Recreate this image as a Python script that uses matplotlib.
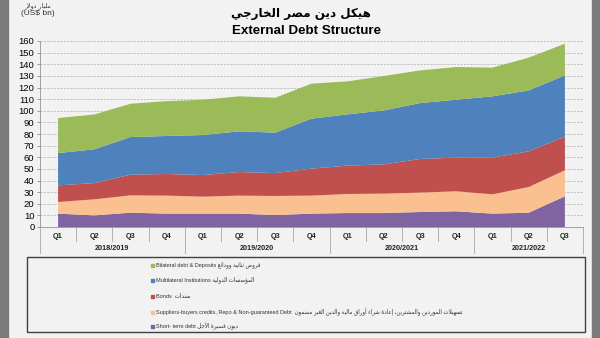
import matplotlib
matplotlib.use("Agg")
import matplotlib.pyplot as plt
from matplotlib.patches import Rectangle
import numpy as np

# ---------------- data ----------------
quarters = ["Q1", "Q2", "Q3", "Q4", "Q1", "Q2", "Q3", "Q4",
            "Q1", "Q2", "Q3", "Q4", "Q1", "Q2", "Q3"]
years = ["2018/2019", "2019/2020", "2020/2021", "2021/2022"]
year_groups = [(0, 3), (4, 7), (8, 11), (12, 14)]

short_term = [11.5, 10.0, 12.3, 11.5, 11.5, 11.5, 10.3, 11.5, 12.0, 12.0, 12.9, 13.5, 11.5, 12.3, 26.4]
suppliers = [10.0, 13.8, 14.9, 15.5, 14.6, 15.5, 16.4, 15.5, 16.4, 16.7, 16.7, 17.2, 16.6, 22.1, 22.4]
bonds = [14.3, 14.0, 17.8, 18.6, 18.6, 20.3, 19.7, 23.2, 24.4, 25.2, 28.9, 29.0, 31.6, 30.7, 28.9]
multilateral = [27.8, 29.0, 32.4, 32.7, 34.4, 35.0, 34.8, 43.0, 44.1, 46.4, 48.1, 49.8, 52.7, 52.4, 52.7]
bilateral = [30.1, 30.0, 28.6, 30.0, 30.4, 30.1, 30.0, 30.1, 28.4, 29.6, 28.1, 28.1, 24.7, 28.2, 27.3]

yticks = list(range(0, 161, 10))

title_ar = "هيكل دين مصر الخارجي"
title_en = "External Debt Structure"
unit_ar = "مليار دولار"
unit_en = "(US$ bn)"

legend_en = ["Bilateral debt & Deposits",
             "Multilateral Institutions",
             "Bonds ",
             "Suppliers-buyers credits, Repo & Non-guaranteed Debt ",
             "Short- term debt"]
legend_ar = ["قروض ثنائية وودائع",
             "المؤسسات الدولية",
             "سندات",
             "تسهيلات الموردين والمشترين، إعادة شراء أوراق مالية والدين الغير مضمون",
             "ديون قصيرة الأجل"]

colors_bottom_up = ["#8064A2", "#FAC090", "#C0504D", "#4F81BD", "#9BBB59"]
legend_colors = ["#9BBB59", "#4F81BD", "#C0504D", "#FAC090", "#8064A2"]

# -------- minimal Arabic shaping (presentation forms, visual order) --------
FORMS = {'ء': (0xFE80, 1), 'آ': (0xFE81, 2), 'أ': (0xFE83, 2), 'ؤ': (0xFE85, 2),
         'إ': (0xFE87, 2), 'ئ': (0xFE89, 4), 'ا': (0xFE8D, 2), 'ب': (0xFE8F, 4),
         'ة': (0xFE93, 2), 'ت': (0xFE95, 4), 'ث': (0xFE99, 4), 'ج': (0xFE9D, 4),
         'ح': (0xFEA1, 4), 'خ': (0xFEA5, 4), 'د': (0xFEA9, 2), 'ذ': (0xFEAB, 2),
         'ر': (0xFEAD, 2), 'ز': (0xFEAF, 2), 'س': (0xFEB1, 4), 'ش': (0xFEB5, 4),
         'ص': (0xFEB9, 4), 'ض': (0xFEBD, 4), 'ط': (0xFEC1, 4), 'ظ': (0xFEC5, 4),
         'ع': (0xFEC9, 4), 'غ': (0xFECD, 4), 'ف': (0xFED1, 4), 'ق': (0xFED5, 4),
         'ك': (0xFED9, 4), 'ل': (0xFEDD, 4), 'م': (0xFEE1, 4), 'ن': (0xFEE5, 4),
         'ه': (0xFEE9, 4), 'و': (0xFEED, 2), 'ى': (0xFEEF, 2), 'ي': (0xFEF1, 4)}
LAMALEF = {'آ': 0xFEF5, 'أ': 0xFEF7, 'إ': 0xFEF9, 'ا': 0xFEFB}


def shape_ar(s):
    out = []
    i = 0
    n = len(s)
    while i < n:
        c = s[i]
        prev = s[i - 1] if i > 0 else ''
        joins_prev = prev in FORMS and FORMS[prev][1] == 4
        if c == 'ل' and i + 1 < n and s[i + 1] in LAMALEF:
            base = LAMALEF[s[i + 1]]
            out.append(chr(base + (1 if joins_prev else 0)))
            i += 2
            continue
        if c in FORMS:
            start, nf = FORMS[c]
            nxt = s[i + 1] if i + 1 < n else ''
            joins_next = nf == 4 and nxt in FORMS
            if nf == 1:
                off = 0
            elif joins_prev and joins_next:
                off = 3
            elif joins_prev:
                off = 1
            elif joins_next:
                off = 2
            else:
                off = 0
            out.append(chr(start + off))
        else:
            out.append(c)
        i += 1
    return ''.join(reversed(out))


FAM = ['Liberation Sans', 'DejaVu Sans']

# ---------------- figure ----------------
W, H = 600, 338
fig = plt.figure(figsize=(6, 3.38), dpi=100, facecolor='#f2f2f2')
ax = fig.add_axes([40 / W, 1 - 227 / H, 543 / W, 186 / H])
ax.set_facecolor('#f2f2f2')

x = np.arange(len(quarters))
ax.stackplot(x, short_term, suppliers, bonds, multilateral, bilateral,
             colors=colors_bottom_up, linewidth=0, zorder=2)

ax.set_xlim(-0.5, len(quarters) - 0.5)
ax.set_ylim(0, 160)
ax.set_yticks(yticks)
ax.set_yticklabels([str(v) for v in yticks], fontsize=6.8, family=FAM)
ax.tick_params(axis='y', length=2.5, width=0.6, color='#909090', pad=1.5)
ax.set_xticks([])
ax.yaxis.grid(True, color='#b8b8b8', linestyle=(0, (2.5, 1.5)), linewidth=0.6, zorder=0)
ax.set_axisbelow(True)
for s in ['top', 'right']:
    ax.spines[s].set_visible(False)
ax.spines['left'].set_color('#a0a0a0')
ax.spines['bottom'].set_color('#a0a0a0')
ax.spines['left'].set_linewidth(0.7)
ax.spines['bottom'].set_linewidth(0.7)

# category axis: quarter labels, separators, year labels
trans = ax.get_xaxis_transform()
q_y = (227 - 236) / 186
yr_y = (227 - 248.5) / 186
q_sep = (227 - 241) / 186
yr_sep = (227 - 253) / 186
year_bounds = set([g[0] - 0.5 for g in year_groups] + [year_groups[-1][1] + 0.5])
for k in range(len(quarters) + 1):
    xb = k - 0.5
    yb = yr_sep if xb in year_bounds else q_sep
    ax.plot([xb, xb], [0, yb], transform=trans, color='#b0b0b0', lw=0.7, clip_on=False)
for i, q in enumerate(quarters):
    ax.text(i, q_y, q, transform=trans, ha='center', va='center', fontsize=5.2,
            fontweight='bold', family=FAM, color='#222222')
for (a, b), yl in zip(year_groups, years):
    ax.text((a + b) / 2, yr_y, yl, transform=trans, ha='center', va='center', fontsize=5.2,
            fontweight='bold', family=FAM, color='#222222')

# titles
fig.text(301 / W, 1 - 14 / H, shape_ar(title_ar), ha='center', va='center',
         fontsize=8.6, fontweight='bold', family=['DejaVu Sans'])
fig.text(307 / W, 1 - 31.5 / H, title_en, ha='center', va='center',
         fontsize=9.6, fontweight='bold', family=FAM)
fig.text(38 / W, 1 - 6 / H, shape_ar(unit_ar), ha='center', va='center',
         fontsize=4.5, family=['DejaVu Sans'], color='#333333')
fig.text(38 / W, 1 - 13.5 / H, unit_en, ha='center', va='center',
         fontsize=6, family=FAM, color='#333333')

# side strips
fig.patches.append(Rectangle((0, 0), 8 / W, 1, transform=fig.transFigure,
                             color='#7a7a7a', zorder=0))
fig.patches.append(Rectangle((592 / W, 0), 8 / W, 1, transform=fig.transFigure,
                             color='#7a7a7a', zorder=0))

# legend box
fig.patches.append(Rectangle((27 / W, 1 - 332 / H), (585 - 27) / W, (332 - 257) / H,
                             transform=fig.transFigure, facecolor='#f2f2f2',
                             edgecolor='#404040', linewidth=1.0, zorder=1))
rows = [265, 280, 296, 312, 326]
for yy, col, en, ar in zip(rows, legend_colors, legend_en, legend_ar):
    fig.patches.append(Rectangle((151 / W, 1 - (yy + 1.5) / H), 3 / W, 3 / H,
                                 transform=fig.transFigure, color=col, zorder=2))
    fig.text(155.5 / W, 1 - yy / H, en + " " + shape_ar(ar), ha='left', va='center',
             fontsize=4.0, family=FAM, color='#333333')

fig.savefig('out.png', dpi=100, facecolor=fig.get_facecolor())
